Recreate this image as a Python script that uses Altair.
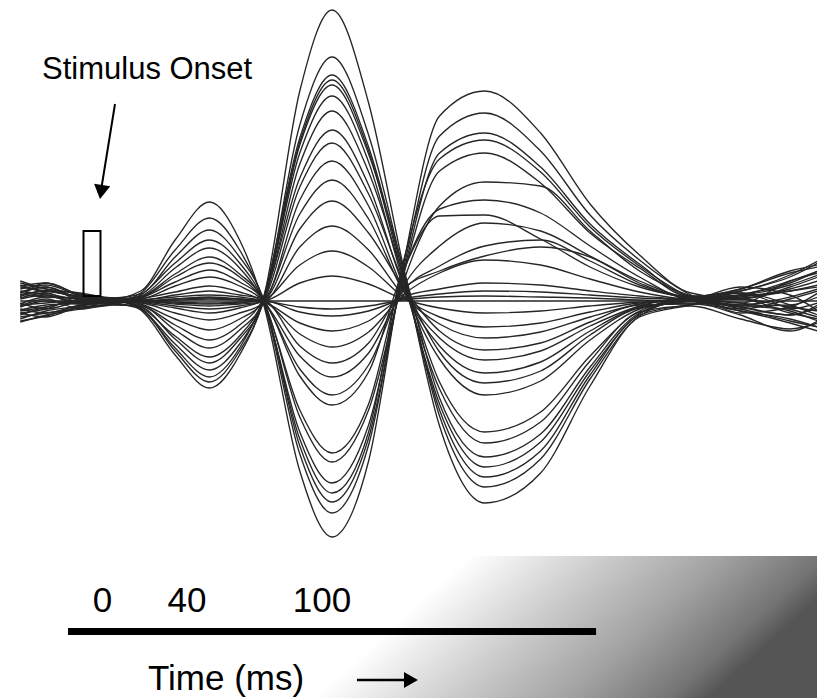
import altair as alt
import pandas as pd

T_MS = [-38, -26, -10, 4, 18, 34, 50, 64, 75, 92, 107, 124, 140, 157, 178, 204, 227, 250, 274, 297, 320, 333]

# ---- traces (fT), group A: negative M50, positive M100, negative M170 ----
A01 = [-12, -8, 4, 2, -9, -54, -87, -54, 2, 210, 291, 198, 36, -125, -202, -172, -85, -16, -4, 6, 18, 30]
A02 = [8, 14, 2, -2, -8, -50, -81, -50, -1, 176, 244, 166, 32, -115, -186, -158, -78, -15, 2, -8, -20, -26]
A03 = [-18, -10, -5, 1, -8, -47, -76, -47, 3, 163, 226, 154, 28, -109, -176, -150, -74, -14, -3, 10, 24, 38]
A04 = [15, 18, 6, 3, -7, -43, -69, -43, 0, 159, 221, 150, 24, -103, -166, -141, -70, -13, 4, -12, -6, 8]
A05 = [-5, 2, -8, -3, -6, -38, -62, -38, -2, 156, 216, 147, 34, -97, -156, -133, -66, -12, 1, 4, 12, 20]
A06 = [20, 12, 8, 2, -6, -35, -56, -35, 1, 148, 205, 139, 20, -88, -142, -121, -60, -11, -5, -18, -28, -22]
A07 = [-20, -15, -6, -4, -5, -29, -47, -29, -1, 137, 190, 129, 26, -81, -131, -111, -55, -10, 3, 8, -4, -14]
A08 = [6, 10, 3, 0, -4, -24, -39, -24, 2, 123, 171, 116, 16, -58, -94, -80, -39, -8, 2, 12, 30, 36]
A09 = [-9, -4, -2, 2, -3, -18, -29, -18, 0, 114, 158, 107, 20, -51, -82, -70, -34, -7, -2, -6, -14, -4]
A10 = [12, 16, 5, -1, -2, -12, -19, -12, -2, 101, 140, 95, 12, -45, -72, -61, -30, -6, 0, 14, 6, -10]
A11 = [-14, -6, 0, 3, -1, -7, -12, -7, 1, 87, 121, 82, 10, -37, -59, -50, -25, -5, 3, -2, 20, 28]
A12 = [3, 8, -3, -2, -1, -5, -8, -5, 0, 72, 100, 68, 14, -30, -49, -42, -21, -4, -3, -10, -22, -30]
A13 = [-3, 4, 2, 1, 0, -3, -5, -3, -1, 54, 75, 51, 6, -23, -37, -31, -16, -3, 2, 5, 10, 16]
A14 = [10, 6, -2, 0, 0, -2, -3, -2, 1, 36, 50, 34, 4, -16, -26, -22, -11, -2, 0, -4, -8, -2]
A15 = [-8, -12, -4, -1, 0, -1, -2, -1, 0, 18, 25, 17, 2, -7, -12, -10, -5, -1, 1, 2, -12, -18]

# ---- group B: positive M50, negative M100, positive M170 ----
B01 = [4, 18, 6, 2, 10, 61, 99, 61, -2, -170, -236, -160, 34, 185, 210, 168, 97, 46, 8, 2, 14, 24]
B02 = [-10, -6, 0, -2, 8, 51, 83, 51, 1, -153, -212, -144, 30, 165, 188, 150, 86, 41, 6, -6, -14, -6]
B03 = [14, 10, 5, 3, 7, 44, 71, 44, 3, -145, -201, -137, 26, 148, 168, 134, 77, 37, 5, 10, 26, 40]
B04 = [-16, -12, -7, -3, 6, 38, 61, 38, 0, -138, -192, -131, 38, 142, 161, 129, 74, 35, 3, -14, -30, -20]
B05 = [9, 14, 1, 1, 5, 33, 53, 33, -2, -131, -182, -124, 24, 130, 148, 118, 68, 33, 4, 6, 16, 26]
B06 = [-6, 0, -3, 0, 4, 27, 44, 27, 1, -116, -161, -109, 18, 95, 119, 115, 70, 30, 5, -4, 4, 12]
B07 = [18, 12, 7, 2, 4, 24, 38, 24, -1, -109, -152, -103, 28, 92, 101, 88, 55, 24, 2, 8, -8, -16]
B08 = [-12, -16, -5, -2, 3, 19, 31, 19, 2, -75, -104, -71, 30, 85, 86, 62, 34, 14, 2, -8, 2, 10]
B09 = [5, 10, 4, 1, 2, 15, 24, 15, 0, -68, -94, -64, 14, 55, 78, 70, 45, 20, 4, 12, 28, 34]
B10 = [-21, -14, -8, -4, 2, 9, 15, 9, -1, -55, -76, -52, 10, 35, 55, 61, 40, 16, 2, -10, -18, -26]
B11 = [16, 8, 2, 3, 1, 6, 10, 6, 2, -45, -62, -42, 12, 30, 45, 54, 44, 18, 3, 3, 10, 14]
B12 = [-2, -8, -1, -1, 1, 4, 6, 4, 0, -33, -46, -31, 6, 28, 41, 36, 22, 9, 1, -2, -10, -20]
B13 = [7, 4, 3, 0, 0, 2, 4, 2, -1, -22, -30, -20, 4, 12, 18, 16, 10, 5, 2, 6, 20, 30]
B14 = [-4, -2, 1, 1, 0, 2, 3, 2, 1, -11, -15, -10, 2, 7, 10, 9, 6, 3, 1, -5, -4, 4]
B15 = [2, 6, -2, -1, 0, 1, 2, 1, 0, -6, -8, -5, 1, 4, 5, 4, 3, 1, 0, 2, -6, -10]

TRACES = {
    "A01": A01, "A02": A02, "A03": A03, "A04": A04, "A05": A05, "A06": A06,
    "A07": A07, "A08": A08, "A09": A09, "A10": A10, "A11": A11, "A12": A12,
    "A13": A13, "A14": A14, "A15": A15,
    "B01": B01, "B02": B02, "B03": B03, "B04": B04, "B05": B05, "B06": B06,
    "B07": B07, "B08": B08, "B09": B09, "B10": B10, "B11": B11, "B12": B12,
    "B13": B13, "B14": B14, "B15": B15,
}

# ---- annotation texts / tick labels ----
TICK_LABELS = ["0", "40", "100"]
TICK_LABEL_MS = [0.2, 39.5, 102.3]
ONSET_TEXT = "Stimulus Onset"
AXIS_TEXT = "Time (ms)"

# ---- scales (ms horizontally, fT vertically) ----
X_DOMAIN = [-47.44, 332.56]
Y_DOMAIN = [-397, 301]
W, H = 817, 698
xs = alt.Scale(domain=X_DOMAIN, nice=False, zero=False)
ys = alt.Scale(domain=Y_DOMAIN, nice=False, zero=False)

rows = []
for name, vals in TRACES.items():
    for t, v in zip(T_MS, vals):
        rows.append({"trace": name, "t": t, "v": v})
df = pd.DataFrame(rows)

FONT = "Liberation Sans"

# gradient panel (bottom right)
grad_df = pd.DataFrame([{"x0": 92.1, "x1": 333.0, "y0": -255, "y1": -397}])
gradient = alt.Chart(grad_df).mark_rect(
    color={
        "gradient": "linear",
        "x1": 0, "y1": 0, "x2": 1, "y2": 0.3,
        "stops": [
            {"offset": 0.0, "color": "#ffffff"},
            {"offset": 0.3, "color": "#ffffff"},
            {"offset": 0.55, "color": "#cacaca"},
            {"offset": 0.75, "color": "#a2a2a2"},
            {"offset": 0.93, "color": "#747474"},
            {"offset": 1.0, "color": "#555555"},
        ],
    }
).encode(
    x=alt.X("x0:Q", scale=xs, axis=None), x2="x1:Q",
    y=alt.Y("y0:Q", scale=ys, axis=None), y2="y1:Q",
)

# zero line
zero_df = pd.DataFrame([{"x0": -38, "x1": 333, "y0": 0}])
zero = alt.Chart(zero_df).mark_rule(color="#262626", strokeWidth=1.5).encode(
    x=alt.X("x0:Q", scale=xs, axis=None), x2="x1:Q",
    y=alt.Y("y0:Q", scale=ys, axis=None),
)

lines = alt.Chart(df).mark_line(
    interpolate="monotone", color="#262626", strokeWidth=1.35
).encode(
    x=alt.X("t:Q", scale=xs, axis=None),
    y=alt.Y("v:Q", scale=ys, axis=None),
    detail="trace:N",
    order="t:Q",
)

# stimulus onset box
box_df = pd.DataFrame([{"x0": -8.6, "x1": -0.7, "y0": 70, "y1": 5}])
box = alt.Chart(box_df).mark_rect(
    fillOpacity=0, stroke="black", strokeWidth=2
).encode(
    x=alt.X("x0:Q", scale=xs, axis=None), x2="x1:Q",
    y=alt.Y("y0:Q", scale=ys, axis=None), y2="y1:Q",
)

# onset arrow
shaft_df = pd.DataFrame([{"x0": 6.05, "y0": 197, "x1": -0.2, "y1": 114}])
shaft = alt.Chart(shaft_df).mark_rule(color="black", strokeWidth=2).encode(
    x=alt.X("x0:Q", scale=xs, axis=None), x2="x1:Q",
    y=alt.Y("y0:Q", scale=ys, axis=None), y2="y1:Q",
)
head_df = pd.DataFrame([{"x0": -0.42, "y0": 109}])
head = alt.Chart(head_df).mark_point(
    shape="triangle-down", filled=True, color="black", size=270, angle=9, opacity=1
).encode(
    x=alt.X("x0:Q", scale=xs, axis=None),
    y=alt.Y("y0:Q", scale=ys, axis=None),
)

onset_df = pd.DataFrame([{"x0": -27.9, "y0": 222, "label": ONSET_TEXT}])
onset_text = alt.Chart(onset_df).mark_text(
    font=FONT, fontSize=31, align="left", baseline="alphabetic", color="black"
).encode(
    x=alt.X("x0:Q", scale=xs, axis=None),
    y=alt.Y("y0:Q", scale=ys, axis=None),
    text="label:N",
)

ticks_df = pd.DataFrame({"x0": TICK_LABEL_MS, "y0": [-311] * 3, "label": TICK_LABELS})
tick_text = alt.Chart(ticks_df).mark_text(
    font=FONT, fontSize=35, align="center", baseline="alphabetic", color="black"
).encode(
    x=alt.X("x0:Q", scale=xs, axis=None),
    y=alt.Y("y0:Q", scale=ys, axis=None),
    text="label:N",
)

bar_df = pd.DataFrame([{"x0": -15.8, "x1": 229.8, "y0": -330.5}])
bar = alt.Chart(bar_df).mark_rule(color="black", strokeWidth=7, strokeCap="butt").encode(
    x=alt.X("x0:Q", scale=xs, axis=None), x2="x1:Q",
    y=alt.Y("y0:Q", scale=ys, axis=None),
)

axis_df = pd.DataFrame([{"x0": 21.4, "y0": -389, "label": AXIS_TEXT}])
axis_text = alt.Chart(axis_df).mark_text(
    font=FONT, fontSize=35, align="left", baseline="alphabetic", color="black"
).encode(
    x=alt.X("x0:Q", scale=xs, axis=None),
    y=alt.Y("y0:Q", scale=ys, axis=None),
    text="label:N",
)

tshaft_df = pd.DataFrame([{"x0": 118.6, "x1": 142.0, "y0": -379}])
tshaft = alt.Chart(tshaft_df).mark_rule(color="black", strokeWidth=2.5).encode(
    x=alt.X("x0:Q", scale=xs, axis=None), x2="x1:Q",
    y=alt.Y("y0:Q", scale=ys, axis=None),
)
thead_df = pd.DataFrame([{"x0": 143.7, "y0": -379}])
thead = alt.Chart(thead_df).mark_point(
    shape="triangle-right", filled=True, color="black", size=260, opacity=1
).encode(
    x=alt.X("x0:Q", scale=xs, axis=None),
    y=alt.Y("y0:Q", scale=ys, axis=None),
)

chart = alt.layer(
    gradient, zero, lines, box, shaft, head, onset_text, tick_text, bar, axis_text, tshaft, thead
).properties(
    width=W, height=H, padding=0, autosize="none", background="white"
).configure_view(stroke=None)

chart.save("out.html", embed_options={"renderer": "svg", "actions": False})
